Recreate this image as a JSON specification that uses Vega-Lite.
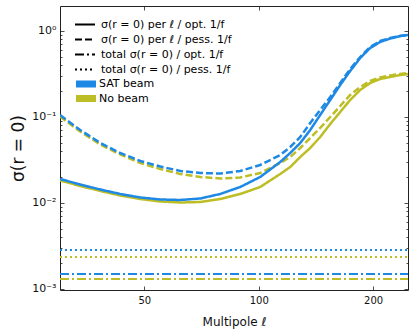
{
  "$schema": "https://vega.github.io/schema/vega-lite/v6.json",
  "width": 348,
  "height": 284,
  "autosize": {"type": "none"},
  "padding": {"left": 60, "top": 6, "right": 7, "bottom": 44},
  "config": {
    "font": "DejaVu Sans",
    "view": {"stroke": "#222", "strokeWidth": 1},
    "axis": {"grid": false, "domain": false, "tickColor": "#222", "tickWidth": 0.8, "labelColor": "#111", "titleColor": "#111", "titleFontWeight": "normal"}
  },
  "datasets": {
    "curves": [
      {"l":30,"s":0.01826,"b":"No beam","k":"σ(r = 0) per ℓ / opt. 1/f"},
      {"l":33.9,"s":0.01577,"b":"No beam","k":"σ(r = 0) per ℓ / opt. 1/f"},
      {"l":38.3,"s":0.01379,"b":"No beam","k":"σ(r = 0) per ℓ / opt. 1/f"},
      {"l":43.2,"s":0.01222,"b":"No beam","k":"σ(r = 0) per ℓ / opt. 1/f"},
      {"l":48.8,"s":0.01113,"b":"No beam","k":"σ(r = 0) per ℓ / opt. 1/f"},
      {"l":55.1,"s":0.01041,"b":"No beam","k":"σ(r = 0) per ℓ / opt. 1/f"},
      {"l":62.2,"s":0.01013,"b":"No beam","k":"σ(r = 0) per ℓ / opt. 1/f"},
      {"l":70.2,"s":0.01027,"b":"No beam","k":"σ(r = 0) per ℓ / opt. 1/f"},
      {"l":79.2,"s":0.01113,"b":"No beam","k":"σ(r = 0) per ℓ / opt. 1/f"},
      {"l":89.4,"s":0.01273,"b":"No beam","k":"σ(r = 0) per ℓ / opt. 1/f"},
      {"l":100.9,"s":0.01535,"b":"No beam","k":"σ(r = 0) per ℓ / opt. 1/f"},
      {"l":113.9,"s":0.02174,"b":"No beam","k":"σ(r = 0) per ℓ / opt. 1/f"},
      {"l":121,"s":0.02622,"b":"No beam","k":"σ(r = 0) per ℓ / opt. 1/f"},
      {"l":128.6,"s":0.03427,"b":"No beam","k":"σ(r = 0) per ℓ / opt. 1/f"},
      {"l":136.6,"s":0.0436,"b":"No beam","k":"σ(r = 0) per ℓ / opt. 1/f"},
      {"l":145.1,"s":0.05853,"b":"No beam","k":"σ(r = 0) per ℓ / opt. 1/f"},
      {"l":154.2,"s":0.08292,"b":"No beam","k":"σ(r = 0) per ℓ / opt. 1/f"},
      {"l":163.8,"s":0.1143,"b":"No beam","k":"σ(r = 0) per ℓ / opt. 1/f"},
      {"l":174,"s":0.1577,"b":"No beam","k":"σ(r = 0) per ℓ / opt. 1/f"},
      {"l":184.9,"s":0.2061,"b":"No beam","k":"σ(r = 0) per ℓ / opt. 1/f"},
      {"l":196.4,"s":0.2484,"b":"No beam","k":"σ(r = 0) per ℓ / opt. 1/f"},
      {"l":208.6,"s":0.2767,"b":"No beam","k":"σ(r = 0) per ℓ / opt. 1/f"},
      {"l":221.7,"s":0.2919,"b":"No beam","k":"σ(r = 0) per ℓ / opt. 1/f"},
      {"l":235.5,"s":0.3078,"b":"No beam","k":"σ(r = 0) per ℓ / opt. 1/f"},
      {"l":247,"s":0.3162,"b":"No beam","k":"σ(r = 0) per ℓ / opt. 1/f"},

      {"l":30,"s":0.1013,"b":"No beam","k":"σ(r = 0) per ℓ / pess. 1/f"},
      {"l":33.9,"s":0.06785,"b":"No beam","k":"σ(r = 0) per ℓ / pess. 1/f"},
      {"l":38.3,"s":0.04789,"b":"No beam","k":"σ(r = 0) per ℓ / pess. 1/f"},
      {"l":43.2,"s":0.03664,"b":"No beam","k":"σ(r = 0) per ℓ / pess. 1/f"},
      {"l":48.8,"s":0.02919,"b":"No beam","k":"σ(r = 0) per ℓ / pess. 1/f"},
      {"l":55.1,"s":0.02484,"b":"No beam","k":"σ(r = 0) per ℓ / pess. 1/f"},
      {"l":62.2,"s":0.02174,"b":"No beam","k":"σ(r = 0) per ℓ / pess. 1/f"},
      {"l":70.2,"s":0.02006,"b":"No beam","k":"σ(r = 0) per ℓ / pess. 1/f"},
      {"l":79.2,"s":0.01927,"b":"No beam","k":"σ(r = 0) per ℓ / pess. 1/f"},
      {"l":89.4,"s":0.01979,"b":"No beam","k":"σ(r = 0) per ℓ / pess. 1/f"},
      {"l":100.9,"s":0.02233,"b":"No beam","k":"σ(r = 0) per ℓ / pess. 1/f"},
      {"l":113.9,"s":0.02919,"b":"No beam","k":"σ(r = 0) per ℓ / pess. 1/f"},
      {"l":121,"s":0.03427,"b":"No beam","k":"σ(r = 0) per ℓ / pess. 1/f"},
      {"l":128.6,"s":0.0436,"b":"No beam","k":"σ(r = 0) per ℓ / pess. 1/f"},
      {"l":136.6,"s":0.05699,"b":"No beam","k":"σ(r = 0) per ℓ / pess. 1/f"},
      {"l":145.1,"s":0.07449,"b":"No beam","k":"σ(r = 0) per ℓ / pess. 1/f"},
      {"l":154.2,"s":0.1,"b":"No beam","k":"σ(r = 0) per ℓ / pess. 1/f"},
      {"l":163.8,"s":0.1342,"b":"No beam","k":"σ(r = 0) per ℓ / pess. 1/f"},
      {"l":174,"s":0.1803,"b":"No beam","k":"σ(r = 0) per ℓ / pess. 1/f"},
      {"l":184.9,"s":0.2233,"b":"No beam","k":"σ(r = 0) per ℓ / pess. 1/f"},
      {"l":196.4,"s":0.2622,"b":"No beam","k":"σ(r = 0) per ℓ / pess. 1/f"},
      {"l":208.6,"s":0.2879,"b":"No beam","k":"σ(r = 0) per ℓ / pess. 1/f"},
      {"l":221.7,"s":0.3039,"b":"No beam","k":"σ(r = 0) per ℓ / pess. 1/f"},
      {"l":235.5,"s":0.3162,"b":"No beam","k":"σ(r = 0) per ℓ / pess. 1/f"},
      {"l":247,"s":0.3248,"b":"No beam","k":"σ(r = 0) per ℓ / pess. 1/f"},

      {"l":30,"s":0.01902,"b":"SAT beam","k":"σ(r = 0) per ℓ / opt. 1/f"},
      {"l":33.9,"s":0.01641,"b":"SAT beam","k":"σ(r = 0) per ℓ / opt. 1/f"},
      {"l":38.3,"s":0.01435,"b":"SAT beam","k":"σ(r = 0) per ℓ / opt. 1/f"},
      {"l":43.2,"s":0.01273,"b":"SAT beam","k":"σ(r = 0) per ℓ / opt. 1/f"},
      {"l":48.8,"s":0.01159,"b":"SAT beam","k":"σ(r = 0) per ℓ / opt. 1/f"},
      {"l":55.1,"s":0.01098,"b":"SAT beam","k":"σ(r = 0) per ℓ / opt. 1/f"},
      {"l":62.2,"s":0.01084,"b":"SAT beam","k":"σ(r = 0) per ℓ / opt. 1/f"},
      {"l":70.2,"s":0.01128,"b":"SAT beam","k":"σ(r = 0) per ℓ / opt. 1/f"},
      {"l":79.2,"s":0.01273,"b":"SAT beam","k":"σ(r = 0) per ℓ / opt. 1/f"},
      {"l":89.4,"s":0.01535,"b":"SAT beam","k":"σ(r = 0) per ℓ / opt. 1/f"},
      {"l":100.9,"s":0.02006,"b":"SAT beam","k":"σ(r = 0) per ℓ / opt. 1/f"},
      {"l":113.9,"s":0.02998,"b":"SAT beam","k":"σ(r = 0) per ℓ / opt. 1/f"},
      {"l":121,"s":0.03814,"b":"SAT beam","k":"σ(r = 0) per ℓ / opt. 1/f"},
      {"l":128.6,"s":0.04986,"b":"SAT beam","k":"σ(r = 0) per ℓ / opt. 1/f"},
      {"l":136.6,"s":0.07062,"b":"SAT beam","k":"σ(r = 0) per ℓ / opt. 1/f"},
      {"l":145.1,"s":0.1055,"b":"SAT beam","k":"σ(r = 0) per ℓ / opt. 1/f"},
      {"l":154.2,"s":0.1577,"b":"SAT beam","k":"σ(r = 0) per ℓ / opt. 1/f"},
      {"l":163.8,"s":0.2355,"b":"SAT beam","k":"σ(r = 0) per ℓ / opt. 1/f"},
      {"l":174,"s":0.3427,"b":"SAT beam","k":"σ(r = 0) per ℓ / opt. 1/f"},
      {"l":184.9,"s":0.4853,"b":"SAT beam","k":"σ(r = 0) per ℓ / opt. 1/f"},
      {"l":196.4,"s":0.6339,"b":"SAT beam","k":"σ(r = 0) per ℓ / opt. 1/f"},
      {"l":208.6,"s":0.7447,"b":"SAT beam","k":"σ(r = 0) per ℓ / opt. 1/f"},
      {"l":221.7,"s":0.818,"b":"SAT beam","k":"σ(r = 0) per ℓ / opt. 1/f"},
      {"l":235.5,"s":0.8748,"b":"SAT beam","k":"σ(r = 0) per ℓ / opt. 1/f"},
      {"l":247,"s":0.8985,"b":"SAT beam","k":"σ(r = 0) per ℓ / opt. 1/f"},

      {"l":30,"s":0.1055,"b":"SAT beam","k":"σ(r = 0) per ℓ / pess. 1/f"},
      {"l":33.9,"s":0.07062,"b":"SAT beam","k":"σ(r = 0) per ℓ / pess. 1/f"},
      {"l":38.3,"s":0.04986,"b":"SAT beam","k":"σ(r = 0) per ℓ / pess. 1/f"},
      {"l":43.2,"s":0.03814,"b":"SAT beam","k":"σ(r = 0) per ℓ / pess. 1/f"},
      {"l":48.8,"s":0.03078,"b":"SAT beam","k":"σ(r = 0) per ℓ / pess. 1/f"},
      {"l":55.1,"s":0.02657,"b":"SAT beam","k":"σ(r = 0) per ℓ / pess. 1/f"},
      {"l":62.2,"s":0.02356,"b":"SAT beam","k":"σ(r = 0) per ℓ / pess. 1/f"},
      {"l":70.2,"s":0.02233,"b":"SAT beam","k":"σ(r = 0) per ℓ / pess. 1/f"},
      {"l":79.2,"s":0.02203,"b":"SAT beam","k":"σ(r = 0) per ℓ / pess. 1/f"},
      {"l":89.4,"s":0.02356,"b":"SAT beam","k":"σ(r = 0) per ℓ / pess. 1/f"},
      {"l":100.9,"s":0.02767,"b":"SAT beam","k":"σ(r = 0) per ℓ / pess. 1/f"},
      {"l":113.9,"s":0.03614,"b":"SAT beam","k":"σ(r = 0) per ℓ / pess. 1/f"},
      {"l":121,"s":0.04479,"b":"SAT beam","k":"σ(r = 0) per ℓ / pess. 1/f"},
      {"l":128.6,"s":0.05853,"b":"SAT beam","k":"σ(r = 0) per ℓ / pess. 1/f"},
      {"l":136.6,"s":0.08516,"b":"SAT beam","k":"σ(r = 0) per ℓ / pess. 1/f"},
      {"l":145.1,"s":0.1206,"b":"SAT beam","k":"σ(r = 0) per ℓ / pess. 1/f"},
      {"l":154.2,"s":0.1708,"b":"SAT beam","k":"σ(r = 0) per ℓ / pess. 1/f"},
      {"l":163.8,"s":0.2484,"b":"SAT beam","k":"σ(r = 0) per ℓ / pess. 1/f"},
      {"l":174,"s":0.3614,"b":"SAT beam","k":"σ(r = 0) per ℓ / pess. 1/f"},
      {"l":184.9,"s":0.4986,"b":"SAT beam","k":"σ(r = 0) per ℓ / pess. 1/f"},
      {"l":196.4,"s":0.6516,"b":"SAT beam","k":"σ(r = 0) per ℓ / pess. 1/f"},
      {"l":208.6,"s":0.7648,"b":"SAT beam","k":"σ(r = 0) per ℓ / pess. 1/f"},
      {"l":221.7,"s":0.829,"b":"SAT beam","k":"σ(r = 0) per ℓ / pess. 1/f"},
      {"l":235.5,"s":0.8748,"b":"SAT beam","k":"σ(r = 0) per ℓ / pess. 1/f"},
      {"l":247,"s":0.8985,"b":"SAT beam","k":"σ(r = 0) per ℓ / pess. 1/f"}
    ],
    "totals": [
      {"l":30,"s":0.00236,"b":"No beam","k":"total σ(r = 0) / pess. 1/f"},
      {"l":247,"s":0.00236,"b":"No beam","k":"total σ(r = 0) / pess. 1/f"},
      {"l":30,"s":0.00131,"b":"No beam","k":"total σ(r = 0) / opt. 1/f"},
      {"l":247,"s":0.00131,"b":"No beam","k":"total σ(r = 0) / opt. 1/f"},
      {"l":30,"s":0.00284,"b":"SAT beam","k":"total σ(r = 0) / pess. 1/f"},
      {"l":247,"s":0.00284,"b":"SAT beam","k":"total σ(r = 0) / pess. 1/f"},
      {"l":30,"s":0.00149,"b":"SAT beam","k":"total σ(r = 0) / opt. 1/f"},
      {"l":247,"s":0.00149,"b":"SAT beam","k":"total σ(r = 0) / opt. 1/f"}
    ]
  },
  "resolve": {"axis": {"x": "independent", "y": "independent"}},
  "layer": [
    {
      "data": {"name": "curves"},
      "mark": {"type": "line", "strokeWidth": 2.5, "clip": true},
      "encoding": {
        "x": {"field": "l", "type": "quantitative",
          "scale": {"type": "log", "domain": [30, 247], "nice": false},
          "axis": {"orient": "bottom", "values": [50, 100, 200], "tickSize": -4, "labelPadding": 9, "labelFontSize": 10, "title": "Multipole ℓ", "titleFontSize": 12, "titlePadding": 11}},
        "y": {"field": "s", "type": "quantitative",
          "scale": {"type": "log", "domain": [0.000973, 1.953], "nice": false},
          "axis": {"orient": "left",
            "values": [0.001,0.002,0.003,0.004,0.005,0.006,0.007,0.008,0.009,0.01,0.02,0.03,0.04,0.05,0.06,0.07,0.08,0.09,0.1,0.2,0.3,0.4,0.5,0.6,0.7,0.8,0.9,1],
            "labelExpr": "datum.value == 1 ? '10⁰' : datum.value == 0.1 ? '10⁻¹' : datum.value == 0.01 ? '10⁻²' : datum.value == 0.001 ? '10⁻³' : ''",
            "labelOverlap": false, "labelFontSize": 11,
            "tickSize": {"condition": {"test": "abs(log(datum.value)/LN10 - round(log(datum.value)/LN10)) < 0.001", "value": -4}, "value": -2},
            "labelPadding": 8,
            "title": "σ(r = 0)", "titleFontSize": 17, "titlePadding": 4}},
        "color": {"field": "b", "type": "nominal",
          "scale": {"domain": ["SAT beam", "No beam"], "range": ["#1e88e5", "#bdbd25"]},
          "legend": {"orient": "none", "legendX": 16, "legendY": 71, "title": null, "labelFontSize": 11,
            "symbolType": "M-4,0H4", "symbolSize": 42.25, "symbolStrokeWidth": 7, "symbolOpacity": 1, "clipHeight": 14, "rowPadding": 0.5, "labelOffset": 9}},
        "strokeDash": {"field": "k", "type": "nominal",
          "scale": {"domain": ["σ(r = 0) per ℓ / opt. 1/f", "σ(r = 0) per ℓ / pess. 1/f", "total σ(r = 0) / opt. 1/f", "total σ(r = 0) / pess. 1/f"],
            "range": [[1, 0], [7, 3], [9, 3, 2, 3], [2, 3]]},
          "legend": {"orient": "none", "legendX": 14, "legendY": 12, "title": null, "labelFontSize": 11,
            "symbolType": "stroke", "symbolSize": 400, "symbolStrokeColor": "#000", "symbolStrokeWidth": 2, "clipHeight": 13, "rowPadding": 2, "labelOffset": 5}}
      }
    },
    {
      "data": {"name": "totals"},
      "mark": {"type": "line", "strokeWidth": 2, "clip": true},
      "encoding": {
        "x": {"field": "l", "type": "quantitative",
          "axis": {"orient": "top", "values": [50, 100, 200], "tickSize": -4, "labels": false, "title": null}},
        "y": {"field": "s", "type": "quantitative",
          "axis": {"orient": "right",
            "values": [0.001,0.002,0.003,0.004,0.005,0.006,0.007,0.008,0.009,0.01,0.02,0.03,0.04,0.05,0.06,0.07,0.08,0.09,0.1,0.2,0.3,0.4,0.5,0.6,0.7,0.8,0.9,1],
            "labels": false, "title": null,
            "tickSize": {"condition": {"test": "abs(log(datum.value)/LN10 - round(log(datum.value)/LN10)) < 0.001", "value": -4}, "value": -2}}},
        "color": {"field": "b", "type": "nominal"},
        "strokeDash": {"field": "k", "type": "nominal"}
      }
    }
  ]
}
